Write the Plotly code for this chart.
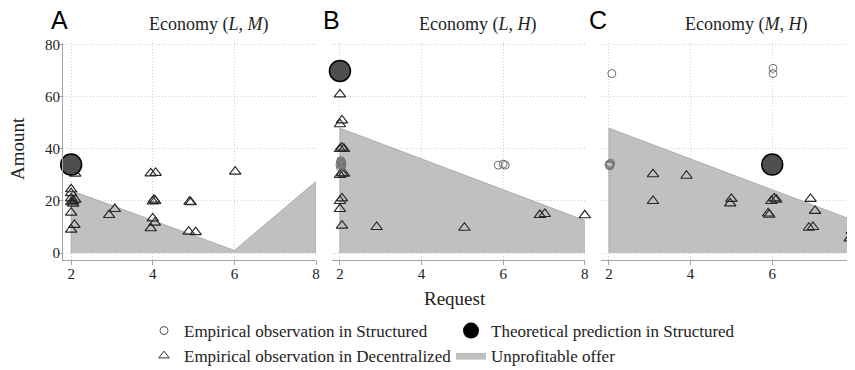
import plotly.graph_objects as go

# ---------------- data ----------------
panels = ["A", "B", "C"]
titles = ["Economy (<i>L</i>, <i>M</i>)", "Economy (<i>L</i>, <i>H</i>)", "Economy (<i>M</i>, <i>H</i>)"]

# Unprofitable offer region (polygon outline)
fill_x_A = [2, 2, 6, 8, 8]
fill_y_A = [0, 24, 1, 27.5, 0]
fill_x_B = [2, 2, 8, 8]
fill_y_B = [0, 48, 12.5, 0]
fill_x_C = [2, 2, 8, 8]
fill_y_C = [0, 48, 12.5, 0]

# Theoretical prediction in Structured
theo_x_A = [2.0]
theo_y_A = [34]
theo_x_B = [2.0]
theo_y_B = [70]
theo_x_C = [6.0]
theo_y_C = [34]

# Empirical observation in Structured
struct_x_A = []
struct_y_A = []
struct_x_B = [2.0, 2.02, 2.04, 2.03, 2.01, 2.05, 2.02, 2.04, 5.88, 6.0, 6.05]
struct_y_B = [34, 35, 33.5, 34.5, 33, 34, 35.5, 35, 33.8, 34.2, 33.8]
struct_x_C = [2.07, 2.0, 2.02, 2.04, 2.03, 6.02, 6.02]
struct_y_C = [69, 34, 33.5, 34.5, 34, 71, 69]

# Empirical observation in Decentralized
dec_x_A = [2.1, 2.0, 2.0, 2.0, 2.05, 2.1, 2.0, 2.05, 2.0, 2.08, 2.0,
           2.93, 3.07, 3.95, 4.07, 4.0, 4.03, 4.06, 4.0, 4.05, 3.95,
           4.9, 4.93, 4.88, 5.05, 6.02]
dec_y_A = [30.5, 24.5, 23, 21, 20, 20.5, 19.5, 19, 15.5, 10.8, 9,
           14.6, 16.9, 30.6, 30.8, 19.8, 20.5, 20, 13.3, 11.7, 9.5,
           19.7, 19.5, 8.2, 8, 31.3]
dec_x_B = [2.0, 2.05, 2.0, 2.0, 2.05, 2.1, 2.05, 2.0, 2.1, 2.05, 2.0, 2.0,
           2.05, 2.9, 5.05, 6.9, 7.02, 8.0]
dec_y_B = [61, 51, 49.5, 40, 40.5, 40, 30.6, 30, 30.5, 21, 20, 16.9,
           10.5, 10, 9.7, 14.6, 15, 14.5]
dec_x_C = [3.08, 3.9, 3.08, 5.0, 4.97, 5.98, 6.05, 6.1, 5.9, 5.93, 6.94,
           7.05, 6.9, 7.0, 8.0, 8.0, 8.0, 7.95, 7.9, 8.0]
dec_y_C = [30.3, 29.7, 20, 20.8, 19.1, 20, 21, 20.5, 15.2, 14.7, 20.8,
           16.2, 9.7, 10, 20.4, 13.6, 9.5, 8.5, 5.6, 5.7]

x_ticks = [2, 4, 6, 8]
y_ticks = [0, 20, 40, 60, 80]

fills = [(fill_x_A, fill_y_A), (fill_x_B, fill_y_B), (fill_x_C, fill_y_C)]
theos = [(theo_x_A, theo_y_A), (theo_x_B, theo_y_B), (theo_x_C, theo_y_C)]
structs = [(struct_x_A, struct_y_A), (struct_x_B, struct_y_B), (struct_x_C, struct_y_C)]
decs = [(dec_x_A, dec_y_A), (dec_x_B, dec_y_B), (dec_x_C, dec_y_C)]

# ---------------- layout geometry ----------------
# The page body adds an 8px margin, so positions are laid out 8px up/left.
W, H = 855, 370
OFF = 8


def px(v):
    return (v - OFF) / W


def py(v):
    return 1 - (v - OFF) / H


x_domains = [[px(63), px(316)], [px(331.8), px(584.8)], [px(600.8), px(853.8)]]
y_domain = [py(259.5), py(43.4)]
letter_px = [59, 331, 598]
title_px = [209, 478, 746]

SERIF = "Liberation Serif, Times New Roman, serif"
SANS = "Liberation Sans, Arial, sans-serif"
FILL = "#c0c0c0"
GRID = "#cfcfcf"
AXIS = "#a6a6a6"

fig = go.Figure()

for i in range(3):
    xa = "x" if i == 0 else f"x{i+1}"
    ya = "y" if i == 0 else f"y{i+1}"
    fx, fy = fills[i]
    fig.add_trace(go.Scatter(x=fx, y=fy, fill="toself", fillcolor=FILL, mode="lines",
                             line=dict(color="#acacac", width=1), xaxis=xa, yaxis=ya,
                             showlegend=False, hoverinfo="skip"))
    dx, dy = decs[i]
    fig.add_trace(go.Scatter(x=dx, y=dy, mode="markers", xaxis=xa, yaxis=ya, showlegend=False,
                             cliponaxis=False,
                             marker=dict(symbol="triangle-up-open", size=10, color="#262626",
                                         line=dict(width=1.15))))
    tx, ty = theos[i]
    fig.add_trace(go.Scatter(x=tx, y=ty, mode="markers", xaxis=xa, yaxis=ya, showlegend=False,
                             cliponaxis=False,
                             marker=dict(symbol="circle", size=21, color="#4f4f4f",
                                         line=dict(color="#000000", width=1.5))))
    sx, sy = structs[i]
    fig.add_trace(go.Scatter(x=sx, y=sy, mode="markers", xaxis=xa, yaxis=ya, showlegend=False,
                             cliponaxis=False,
                             marker=dict(symbol="circle-open", size=8, color="#707070",
                                         line=dict(width=1))))

# legend-only entries
fig.add_trace(go.Scatter(x=[None], y=[None], mode="markers", name="Empirical observation in Structured",
                         marker=dict(symbol="circle-open", size=8, color="#555555", line=dict(width=1))))
fig.add_trace(go.Scatter(x=[None], y=[None], mode="markers", name="Theoretical prediction in Structured",
                         marker=dict(symbol="circle", size=20, color="#000000")))
fig.add_trace(go.Scatter(x=[None], y=[None], mode="markers", name="Empirical observation in Decentralized",
                         marker=dict(symbol="triangle-up-open", size=9, color="#333333", line=dict(width=1))))
fig.add_trace(go.Scatter(x=[None, None, None], y=[None, None, None], fill="toself", fillcolor=FILL,
                         mode="lines", line=dict(color="#b0b0b0", width=1), name="Unprofitable offer"))

layout = dict(
    width=W, height=H,
    margin=dict(l=0, r=0, t=0, b=0, autoexpand=False),
    paper_bgcolor="white", plot_bgcolor="white",
    font=dict(family=SERIF, size=15, color="#222222"),
    showlegend=True,
    legend=dict(orientation="h", x=px(144), xanchor="left", y=py(313), yanchor="top",
                entrywidth=262, entrywidthmode="pixels", font=dict(family=SERIF, size=17, color="#222222"),
                bgcolor="rgba(0,0,0,0)", itemsizing="trace", tracegroupgap=0),
)

for i in range(3):
    xk = "xaxis" if i == 0 else f"xaxis{i+1}"
    yk = "yaxis" if i == 0 else f"yaxis{i+1}"
    ya = "y" if i == 0 else f"y{i+1}"
    xa = "x" if i == 0 else f"x{i+1}"
    layout[xk] = dict(domain=x_domains[i], range=[1.8, 8.0], anchor=ya,
                      tickvals=x_ticks, ticktext=[str(v) for v in x_ticks],
                      showline=True, linecolor=AXIS, linewidth=1,
                      ticks="outside", ticklen=4, tickcolor=AXIS, ticklabelstandoff=-4,
                      showgrid=True, gridcolor=GRID, griddash="1px,2px", gridwidth=1,
                      zeroline=False, automargin=False,
                      tickfont=dict(family=SERIF, size=15, color="#222222"))
    ydict = dict(domain=y_domain, range=[-2.5, 80.6], anchor=xa,
                 tickvals=y_ticks, showgrid=True, gridcolor=GRID, griddash="1px,2px", gridwidth=1,
                 zeroline=False, automargin=False,
                 tickfont=dict(family=SERIF, size=15, color="#222222"))
    if i == 0:
        ydict.update(showline=True, linecolor=AXIS, linewidth=1, ticks="outside", ticklen=4,
                     tickcolor=AXIS, showticklabels=True, ticklabelstandoff=-5)
    else:
        ydict.update(showline=False, ticks="", showticklabels=False)
    layout[yk] = ydict

annotations = []
for i in range(3):
    annotations.append(dict(text=panels[i], x=px(letter_px[i]), y=py(20), xref="paper", yref="paper",
                            showarrow=False, xanchor="center", yanchor="middle",
                            font=dict(family=SANS, size=25, color="#000000")))
    annotations.append(dict(text=titles[i], x=px(title_px[i]), y=py(25), xref="paper", yref="paper",
                            showarrow=False, xanchor="center", yanchor="middle",
                            font=dict(family=SERIF, size=18, color="#222222")))
annotations.append(dict(text="Amount", x=px(17), y=py(149), xref="paper", yref="paper",
                        showarrow=False, textangle=-90, xanchor="center", yanchor="middle",
                        font=dict(family=SERIF, size=19, color="#222222")))
annotations.append(dict(text="Request", x=px(455), y=py(298), xref="paper", yref="paper",
                        showarrow=False, xanchor="center", yanchor="middle",
                        font=dict(family=SERIF, size=19, color="#222222")))
layout["annotations"] = annotations

fig.update_layout(**layout)
fig.write_html("out.html")
